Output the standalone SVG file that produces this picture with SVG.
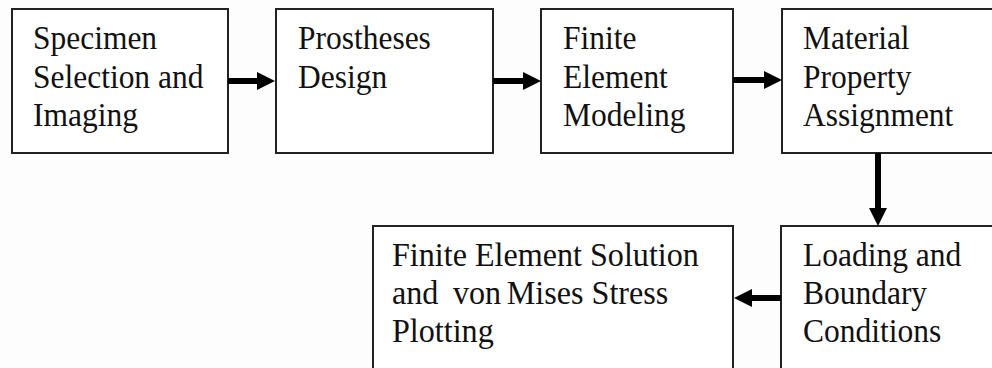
<svg xmlns="http://www.w3.org/2000/svg" width="992" height="368" viewBox="0 0 992 368">
  <style>
    .box { fill: #ffffff; stroke: #222222; stroke-width: 2; }
    .lbl { font-family: "Liberation Serif", "Times New Roman", serif; font-size: 34px; fill: #111111; }
    .flow { stroke: #000000; stroke-width: 6; fill: none; marker-end: url(#head); }
  </style>
  <defs>
    <marker id="head" markerUnits="userSpaceOnUse" markerWidth="18" markerHeight="18" viewBox="0 0 18 18" refX="8" refY="9" orient="auto">
      <path d="M0,0 L18,9 L0,18 Z" fill="#000000"/>
    </marker>
  </defs>
  <rect width="992" height="368" fill="#fdfdfd"/>

  <!-- process steps, top row (labels set in a slightly condensed serif) -->
  <g id="specimen">
    <rect class="box" x="12" y="9" width="216" height="144"/>
    <text class="lbl" transform="matrix(0.926 0 0 1 33 0)"><tspan x="0" y="49">Specimen</tspan><tspan x="0" y="88">Selection and</tspan><tspan x="0" y="126">Imaging</tspan></text>
  </g>
  <g id="prostheses">
    <rect class="box" x="276" y="9" width="217" height="144"/>
    <text class="lbl" transform="matrix(0.926 0 0 1 298 0)"><tspan x="0" y="49">Prostheses</tspan><tspan x="0" y="88">Design</tspan></text>
  </g>
  <g id="fe-modeling">
    <rect class="box" x="541" y="9" width="192" height="144"/>
    <text class="lbl" transform="matrix(0.926 0 0 1 563 0)"><tspan x="0" y="49">Finite</tspan><tspan x="0" y="88">Element</tspan><tspan x="0" y="126">Modeling</tspan></text>
  </g>
  <g id="material">
    <rect class="box" x="782" y="9" width="230" height="144"/>
    <text class="lbl" transform="matrix(0.926 0 0 1 803 0)"><tspan x="0" y="49">Material</tspan><tspan x="0" y="88">Property</tspan><tspan x="0" y="126">Assignment</tspan></text>
  </g>

  <!-- process steps, bottom row -->
  <g id="loading">
    <rect class="box" x="781" y="226" width="230" height="200"/>
    <text class="lbl" transform="matrix(0.926 0 0 1 803 0)"><tspan x="0" y="266">Loading and</tspan><tspan x="0" y="304">Boundary</tspan><tspan x="0" y="342">Conditions</tspan></text>
  </g>
  <g id="fe-solution">
    <rect class="box" x="373" y="226" width="360" height="200"/>
    <text class="lbl" transform="matrix(0.945 0 0 1 392 0)"><tspan x="0" y="266">Finite Element Solution</tspan><tspan x="0" y="304">and</tspan><tspan x="64.5" y="304">von</tspan><tspan x="121.5" y="304">Mises Stress</tspan><tspan x="0" y="342">Plotting</tspan></text>
  </g>

  <!-- connectors -->
  <g id="connectors">
    <line class="flow" x1="228" y1="81" x2="265" y2="81"/>
    <line class="flow" x1="493" y1="81" x2="531" y2="81"/>
    <line class="flow" x1="733" y1="80" x2="772" y2="80"/>
    <line class="flow" x1="878" y1="153" x2="878" y2="216"/>
    <line class="flow" x1="781" y1="298" x2="744" y2="298"/>
  </g>
</svg>
